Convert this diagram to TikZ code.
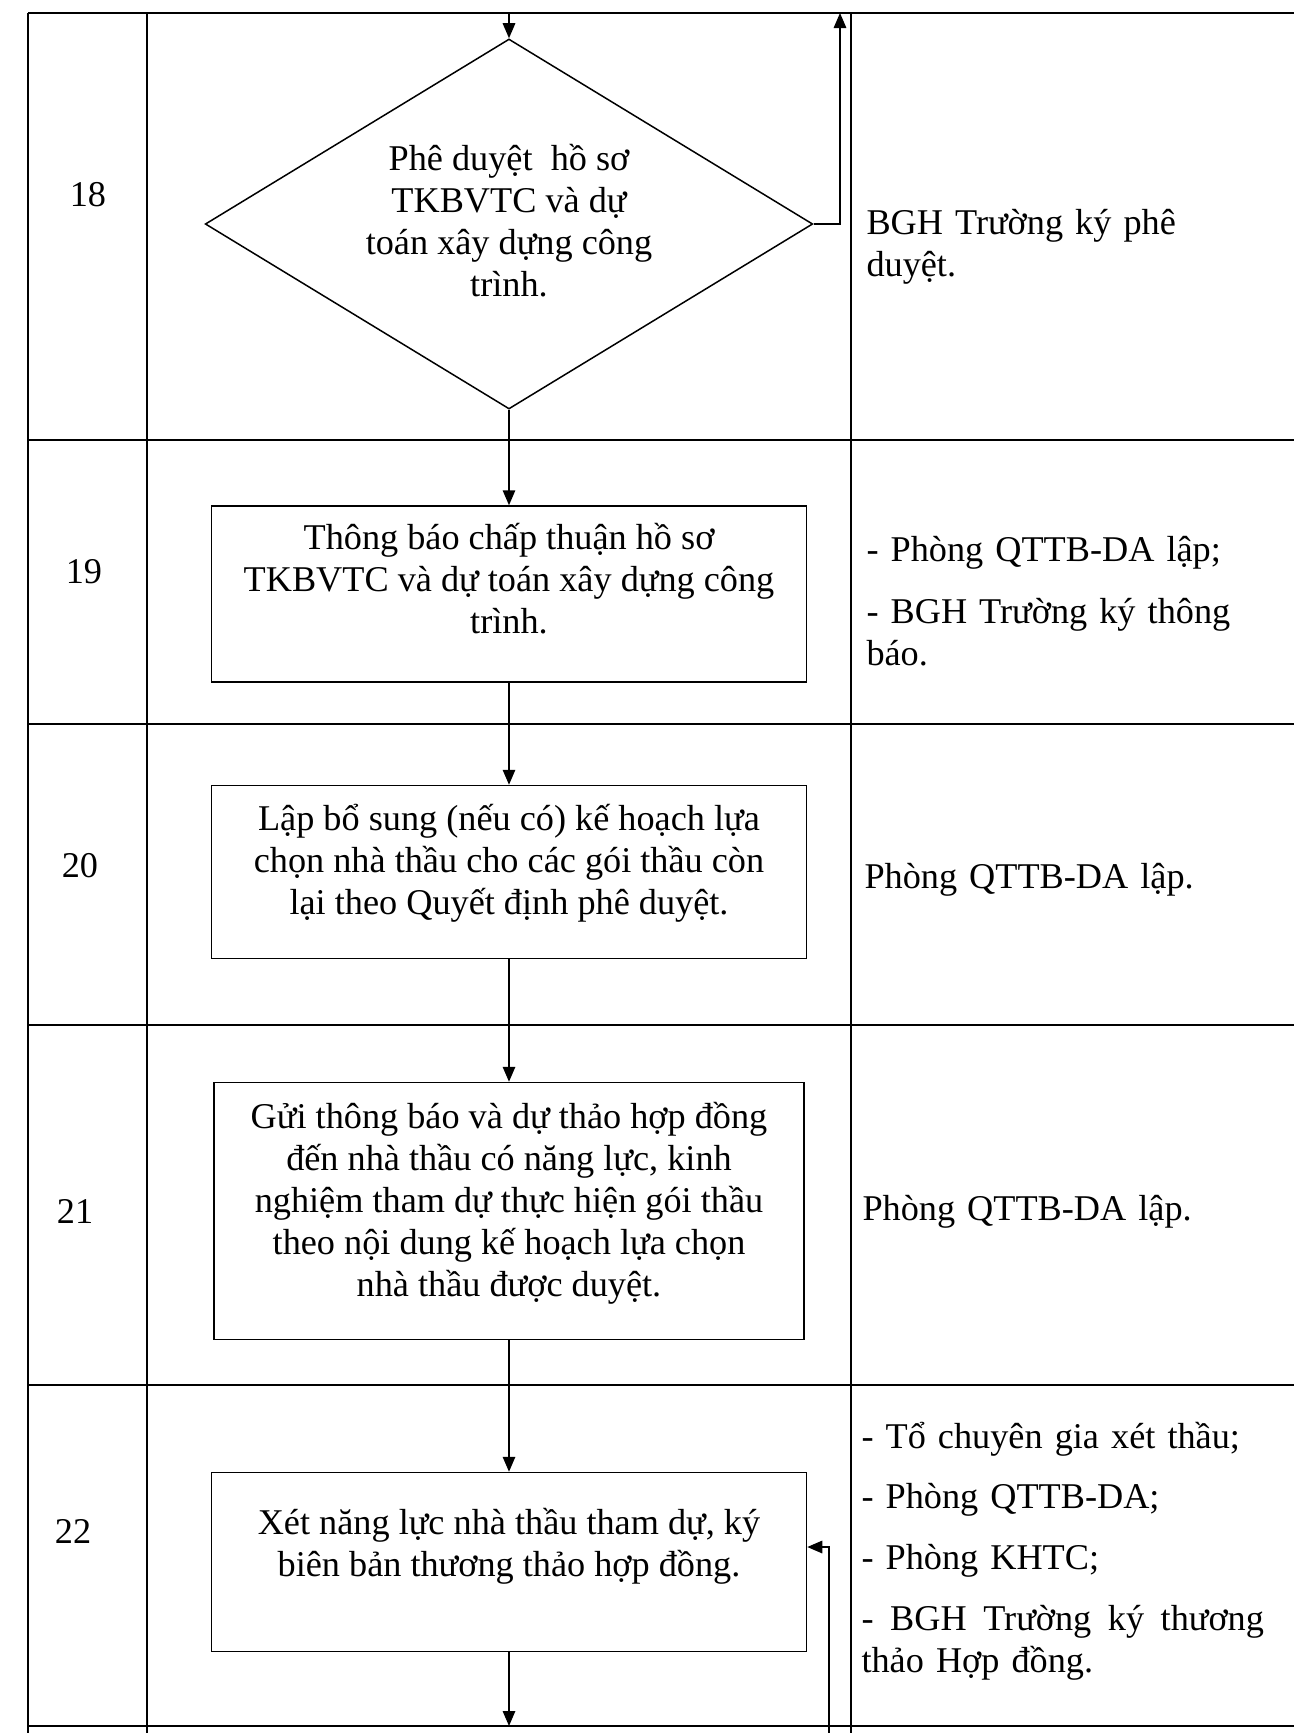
\documentclass[tikz,border=0pt]{standalone}
\usepackage{fontspec}
\setmainfont{Liberation Serif}
\usetikzlibrary{shapes.geometric,arrows.meta}

% text of a step, drawn a little above the middle of its box
\newcommand{\lifted}[2]{\raisebox{#1}[\height][\depth]{\begin{tabular}{@{}c@{}}#2\end{tabular}}}

\tikzset{
    tableline/.style={line width=0.7pt},
    stepbox/.style={draw, rectangle, line width=0.6pt, minimum width=238pt, inner sep=0pt},
    decision/.style={draw, diamond, aspect=1.64, line width=0.6pt, minimum width=243pt, minimum height=148pt, inner sep=0pt},
    who/.style={anchor=west, inner sep=0pt, text width=170pt, align=left},
    flow/.style={line width=0.6pt, -{Triangle[length=6pt,width=5pt]}}
}

\begin{document}
\begin{tikzpicture}[x=0.4pt, y=-0.4pt, font=\fontsize{14.5pt}{16.8pt}\selectfont]
    \useasboundingbox (0,0) rectangle (1294,1733);

    % table
    \foreach \y in {13,440,724,1025,1385,1726}
        \draw[tableline] (28,\y) -- (1294,\y);
    \foreach \x in {28,147,851}
        \draw[tableline] (\x,13) -- (\x,1733);

    % step numbers
    \node (n18) at (88,195) {18};
    \node (n19) at (84,572) {19};
    \node (n20) at (80,866) {20};
    \node (n21) at (75,1211) {21};
    \node (n22) at (73,1531) {22};

    % steps
    \node[decision] (d18) at (509,224) {\lifted{-0.5pt}{Phê duyệt~ hồ sơ\\TKBVTC và dự\\toán xây dựng công\\trình.}};
    \node[stepbox, minimum height=70.4pt] (b19) at (509,594) {\lifted{4.4pt}{Thông báo chấp thuận hồ sơ\\TKBVTC và dự toán xây dựng công\\trình.}};
    \node[stepbox, minimum height=69.2pt] (b20) at (509,872) {\lifted{3pt}{Lập bổ sung (nếu có) kế hoạch lựa\\chọn nhà thầu cho các gói thầu còn\\lại theo Quyết định phê duyệt.}};
    \node[stepbox, minimum height=102.8pt, minimum width=236pt] (b21) at (509,1211) {\lifted{2.6pt}{Gửi thông báo và dự thảo hợp đồng\\đến nhà thầu có năng lực, kinh\\nghiệm tham dự thực hiện gói thầu\\theo nội dung kế hoạch lựa chọn\\nhà thầu được duyệt.}};
    \node[stepbox, minimum height=71.6pt] (b22) at (509,1562) {\lifted{6pt}{Xét năng lực nhà thầu tham dự, ký\\biên bản thương thảo hợp đồng.}};

    % who does it
    \node[who] (r18) at (866,247) {BGH Trường ký phê\\duyệt.};
    \node[who] (r19) at (866,601) {- Phòng QTTB-DA lập;\\[8pt]- BGH Trường ký thông\\báo.};
    \node[who] (r20) at (864,880) {Phòng QTTB-DA lập.};
    \node[who] (r21) at (862,1212) {Phòng QTTB-DA lập.};
    \node[who] (r22) at (861,1551) {- Tổ chuyên gia xét thầu;\\[7.5pt]- Phòng QTTB-DA;\\[7.5pt]- Phòng KHTC;\\[7.5pt]\makebox[161pt][s]{\spaceskip=0pt - BGH Trường ký thương}\\thảo Hợp đồng.};

    % loose ends
    \coordinate (top18) at (509,13);
    \coordinate (up18) at (840,13);
    \coordinate (bot22) at (509,1726);
    \coordinate (back22) at (829,1733);

    \draw[flow] (top18) -- (d18.north);
    \draw[flow] (d18.east) -| (up18);
    \draw[flow] (d18.south) -- (b19.north);
    \draw[flow] (b19.south) -- (b20.north);
    \draw[flow] (b20.south) -- (b21.north);
    \draw[flow] (b21.south) -- (b22.north);
    \draw[flow] (b22.south) -- (bot22);
    \draw[flow] (back22) |- ([yshift=6pt]b22.east);
\end{tikzpicture}
\end{document}
